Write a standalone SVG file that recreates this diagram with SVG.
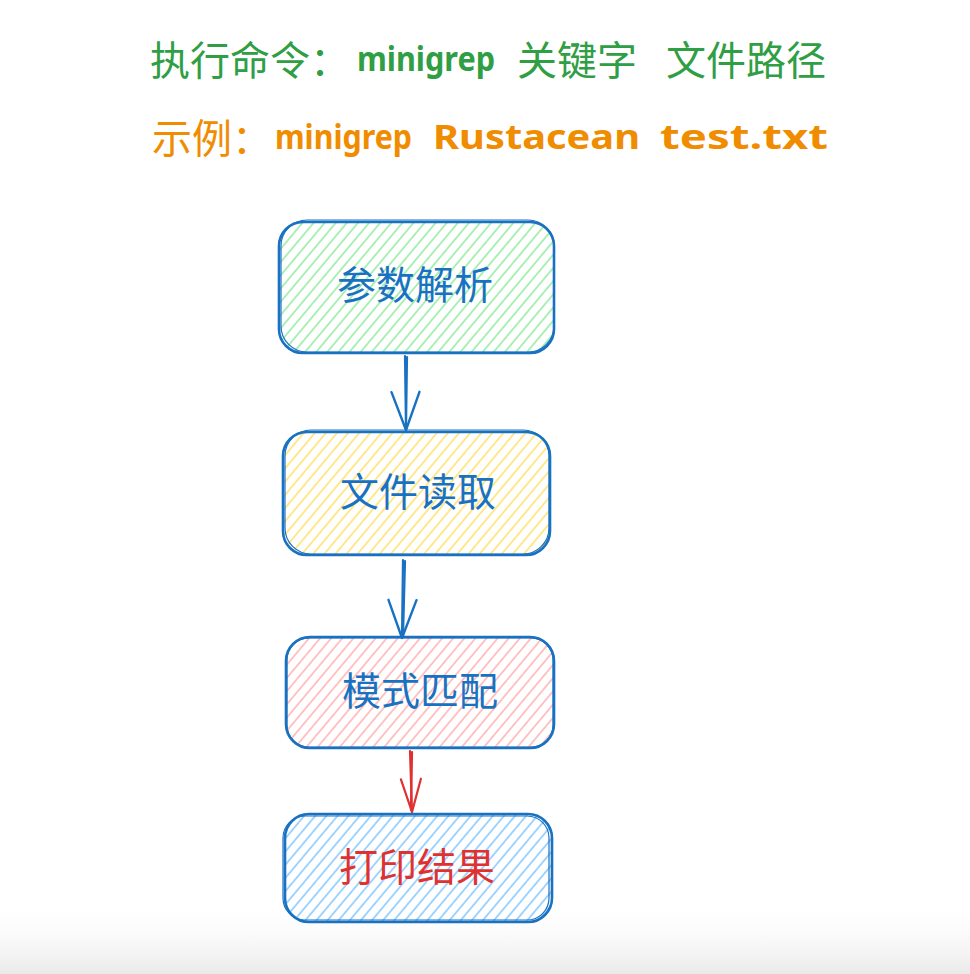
<svg xmlns="http://www.w3.org/2000/svg" width="970" height="974" viewBox="0 0 970 974">
  <style>
    .cjk { font-family: "Noto Sans CJK SC", "Noto Sans", sans-serif; }
    .lat { font-family: "Noto Sans", "Liberation Sans", "Noto Sans CJK SC", sans-serif; font-weight: 700; }
    .green { fill: #2f9e44; }
    .orange { fill: #f08c00; }
    .box { stroke: #1971c2; stroke-width: 2.6; }
    .box2 { fill: none; stroke: #1971c2; stroke-width: 1.2; }
    .label { font-family: "Noto Sans CJK SC", sans-serif; font-size: 39px; text-anchor: middle; }
    .conn { fill: none; stroke-width: 2.2; stroke-linecap: round; }
  </style>
  <defs>
    <pattern id="hGreen" width="8.5" height="8.5" patternUnits="userSpaceOnUse" patternTransform="rotate(40)">
      <line x1="1" y1="0" x2="1" y2="8.5" stroke="#a3eeae" stroke-width="1.8"/>
    </pattern>
    <pattern id="hYellow" width="8.5" height="8.5" patternUnits="userSpaceOnUse" patternTransform="rotate(40)">
      <line x1="1" y1="0" x2="1" y2="8.5" stroke="#ffe680" stroke-width="1.8"/>
    </pattern>
    <pattern id="hPink" width="8.5" height="8.5" patternUnits="userSpaceOnUse" patternTransform="rotate(40)">
      <line x1="1" y1="0" x2="1" y2="8.5" stroke="#ffbdbd" stroke-width="1.8"/>
    </pattern>
    <pattern id="hBlue" width="8.5" height="8.5" patternUnits="userSpaceOnUse" patternTransform="rotate(40)">
      <line x1="1" y1="0" x2="1" y2="8.5" stroke="#96d0ff" stroke-width="1.8"/>
    </pattern>
    <marker id="arrowBlue" markerUnits="userSpaceOnUse" markerWidth="50" markerHeight="40" refX="0" refY="0" viewBox="-42 -20 50 40" orient="auto">
      <path d="M -38 -14 L 0 0 L -38 14" fill="none" stroke="#1971c2" stroke-width="2.4" stroke-linecap="round" stroke-linejoin="round"/>
    </marker>
    <marker id="arrowRed" markerUnits="userSpaceOnUse" markerWidth="50" markerHeight="40" refX="0" refY="0" viewBox="-42 -20 50 40" orient="auto">
      <path d="M -33 -10 L 0 0 L -33 10" fill="none" stroke="#e03131" stroke-width="2.2" stroke-linecap="round" stroke-linejoin="round"/>
    </marker>
    <linearGradient id="shade" x1="0" y1="0" x2="0" y2="1">
      <stop offset="0" stop-color="#ffffff" stop-opacity="0"/>
      <stop offset="1" stop-color="#e9e9e9" stop-opacity="1"/>
    </linearGradient>
  </defs>

  <rect x="0" y="0" width="970" height="974" fill="#ffffff"/>
  <rect x="0" y="900" width="970" height="74" fill="url(#shade)"/>

  <g id="title">
    <text class="cjk green" font-size="40" x="150" y="75">执行命令：</text>
    <text class="lat green" font-size="34" x="357" y="71" textLength="138" lengthAdjust="spacingAndGlyphs">minigrep</text>
    <text class="cjk green" font-size="40" x="517" y="75">关键字</text>
    <text class="cjk green" font-size="40" x="666" y="75">文件路径</text>
  </g>
  <g id="example">
    <text class="cjk orange" font-size="40" x="152" y="153">示例：</text>
    <text class="lat orange" font-size="34" x="275" y="149" textLength="137" lengthAdjust="spacingAndGlyphs">minigrep</text>
    <text class="lat orange" font-size="34" x="433" y="149" textLength="207" lengthAdjust="spacingAndGlyphs">Rustacean</text>
    <text class="lat orange" font-size="34" x="660" y="149" textLength="168" lengthAdjust="spacingAndGlyphs">test.txt</text>
  </g>

  <g id="connectors">
    <path class="conn" d="M 405 356 L 406 430" stroke="#1971c2" marker-end="url(#arrowBlue)"/>
    <path class="conn" d="M 407 357 L 406 428" stroke="#1971c2" stroke-width="1.2"/>
    <path class="conn" d="M 403 560 L 402 638" stroke="#1971c2" marker-end="url(#arrowBlue)"/>
    <path class="conn" d="M 405 561 L 403 636" stroke="#1971c2" stroke-width="1.2"/>
    <path class="conn" d="M 410 751 L 412 812" stroke="#e03131" marker-end="url(#arrowRed)"/>
    <path class="conn" d="M 412 752 L 411 810" stroke="#e03131" stroke-width="1.1"/>
  </g>

  <g id="node-parse">
    <rect class="box" x="279" y="222" width="275" height="131" rx="24" fill="url(#hGreen)"/>
    <rect class="box2" x="281" y="220" width="273" height="132" rx="26"/>
    <text class="label" x="415" y="299" fill="#1971c2">参数解析</text>
  </g>
  <g id="node-read">
    <rect class="box" x="283" y="432" width="267" height="123" rx="24" fill="url(#hYellow)"/>
    <rect class="box2" x="285" y="430" width="264" height="124" rx="26"/>
    <text class="label" x="418" y="506" fill="#1971c2">文件读取</text>
  </g>
  <g id="node-match">
    <rect class="box" x="286" y="637" width="268" height="111" rx="24" fill="url(#hPink)"/>
    <rect class="box2" x="287" y="638" width="266" height="109" rx="22"/>
    <text class="label" x="420" y="705" fill="#1971c2">模式匹配</text>
  </g>
  <g id="node-print">
    <rect class="box" x="285" y="814" width="267" height="108" rx="24" fill="url(#hBlue)"/>
    <rect class="box2" x="283" y="816" width="266" height="104" rx="22"/>
    <text class="label" x="417" y="881" fill="#e03131">打印结果</text>
  </g>
</svg>
